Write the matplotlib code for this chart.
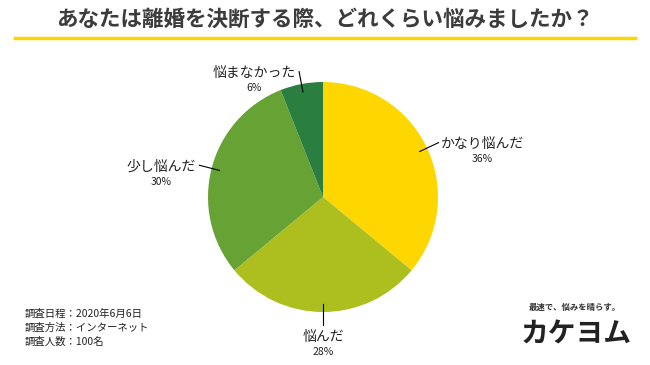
import numpy as np
import matplotlib
matplotlib.use('Agg')
import matplotlib.pyplot as plt
from matplotlib.offsetbox import TextArea, VPacker, AnnotationBbox

plt.rcParams['font.family'] = ['Noto Sans CJK JP', 'DejaVu Sans']

title = 'あなたは離婚を決断する際、どれくらい悩みましたか？'
labels = ['かなり悩んだ', '悩んだ', '少し悩んだ', '悩まなかった']
values = [36, 28, 30, 6]
colors = ['#FFD700', '#ADBE1F', '#67A234', '#2A7F40']
notes = ['調査日程：2020年6月6日', '調査方法：インターネット', '調査人数：100名']

W, H = 650, 365
fig = plt.figure(figsize=(W / 100, H / 100), dpi=100)

# header
fig.text(325 / W, 1 - 19 / H, title, ha='center', va='center',
         fontsize=15.5, fontweight='bold', color='#3c3c3c')
fig.add_artist(plt.Line2D([15 / W, 635 / W], [1 - 38 / H, 1 - 38 / H],
                          color='#FFD400', lw=2.5))

# pie, center (323,197) radius 115 px
cx, cy, r = 323, 197, 115
ax = fig.add_axes([(cx - r) / W, (H - cy - r) / H, 2 * r / W, 2 * r / H])
wedges, _ = ax.pie(values, colors=colors, startangle=90, counterclock=False,
                   radius=1, wedgeprops=dict(linewidth=0))
ax.set_xlim(-1, 1)
ax.set_ylim(-1, 1)
ax.set_aspect('equal')
ax.axis('off')

for w, lab, v in zip(wedges, labels, values):
    ang = np.deg2rad((w.theta1 + w.theta2) / 2)
    c, s = np.cos(ang), np.sin(ang)
    x0, y0 = 0.93 * c, 0.93 * s
    x1, y1 = 1.11 * c, 1.11 * s
    ax.plot([x0, x1], [y0, y1], color='black', lw=0.8, clip_on=False)
    box = VPacker(children=[
        TextArea(lab, textprops=dict(fontsize=10, color='#222222')),
        TextArea(f'{v}%', textprops=dict(fontsize=7.5, color='#222222')),
    ], align='center', pad=0, sep=2)
    if abs(c) < 0.1:
        align = (0.5, 1.0) if s < 0 else (0.5, 0.0)
        dx, dy = 0, -0.05 if s < 0 else 0.03
    elif c > 0:
        align = (0.0, 0.8)
        dx, dy = 0.02, 0
    else:
        align = (1.0, 0.8)
        dx, dy = -0.03, 0
    ab = AnnotationBbox(box, (x1 + dx, y1 + dy),
                        box_alignment=align, frameon=False, pad=0,
                        annotation_clip=False)
    ax.add_artist(ab)

# survey notes
for i, t in enumerate(notes):
    fig.text(25 / W, 1 - (314 + 14 * i) / H, t, ha='left', va='center',
             fontsize=7.5, color='#222222')

# logo as text
fig.text(575 / W, 1 - 307 / H, '最速で、悩みを晴らす。', ha='center', va='center',
         fontsize=6, fontweight='bold', color='#333333')
fig.text(576 / W, 1 - 334 / H, 'カケヨム', ha='center', va='center',
         fontsize=20, fontweight='bold', color='#222222')

fig.savefig('out.png', dpi=100)
